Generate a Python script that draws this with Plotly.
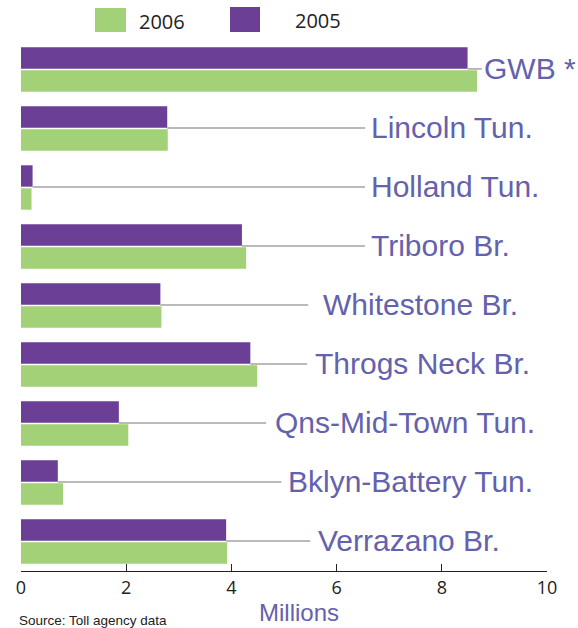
import plotly.graph_objects as go

crossings = ["GWB *", "Lincoln Tun.", "Holland Tun.", "Triboro Br.", "Whitestone Br.",
             "Throgs Neck Br.", "Qns-Mid-Town Tun.", "Bklyn-Battery Tun.", "Verrazano Br."]
vol_2005 = [8.49, 2.78, 0.22, 4.20, 2.65, 4.36, 1.86, 0.70, 3.90]
vol_2006 = [8.67, 2.79, 0.20, 4.28, 2.67, 4.49, 2.04, 0.80, 3.92]
x_ticks = [0, 2, 4, 6, 8, 10]

# label / leader-line placement (data units on x axis)
label_x = [8.78, 6.64, 6.64, 6.64, 5.72, 5.57, 4.81, 5.06, 5.63]
line_end = [8.76, 6.54, 6.54, 6.54, 5.46, 5.44, 4.66, 4.95, 5.50]

PURPLE = "#6b3f96"
GREEN = "#a3d177"
LABEL = "#6461ad"
LINE = "#a3a3a3"

W, H = 578, 628
L, R, T, B = 21, 31, 40, 57
PW, PH = W - L - R, H - T - B

def px(x):
    return (x - L) / PW

def py(y):
    return (H - B - y) / PH

fig = go.Figure()
fig.add_trace(go.Bar(y=list(range(len(crossings))), x=vol_2005, orientation="h",
                     marker=dict(color=PURPLE, line=dict(width=0)), name="2005",
                     showlegend=False))
fig.add_trace(go.Bar(y=list(range(len(crossings))), x=vol_2006, orientation="h",
                     marker=dict(color=GREEN, line=dict(width=0)), name="2006",
                     showlegend=False))

shapes = []
annotations = []
for i, name in enumerate(crossings):
    shapes.append(dict(type="line", xref="x", yref="y", x0=vol_2005[i], x1=line_end[i],
                       y0=i - 0.01, y1=i - 0.01, line=dict(color=LINE, width=1.5)))
    annotations.append(dict(x=label_x[i], y=i, xref="x", yref="y", text=name,
                            showarrow=False, xanchor="left", yanchor="middle",
                            font=dict(family="Liberation Sans", size=30, color=LABEL),
                            borderpad=0, yshift=1))

# legend
shapes.append(dict(type="rect", xref="paper", yref="paper", x0=px(95), x1=px(126),
                   y0=py(32), y1=py(8), fillcolor=GREEN, line=dict(width=0)))
shapes.append(dict(type="rect", xref="paper", yref="paper", x0=px(230), x1=px(260),
                   y0=py(32), y1=py(7), fillcolor=PURPLE, line=dict(width=0)))
annotations.append(dict(x=px(137), y=py(21), xref="paper", yref="paper", text="2006",
                        showarrow=False, xanchor="left", yanchor="middle",
                        font=dict(family="Open Sans", size=20, color="#222")))
annotations.append(dict(x=px(293), y=py(20), xref="paper", yref="paper", text="2005",
                        showarrow=False, xanchor="left", yanchor="middle",
                        font=dict(family="Open Sans", size=20, color="#222")))
annotations.append(dict(x=px(299), y=py(612), xref="paper", yref="paper", text="Millions",
                        showarrow=False, xanchor="center", yanchor="middle", borderpad=0,
                        font=dict(family="Liberation Sans", size=24, color=LABEL)))
annotations.append(dict(x=px(17), y=py(611), xref="paper", yref="paper",
                        text="Source: Toll agency data",
                        showarrow=False, xanchor="left", yanchor="top",
                        font=dict(family="Liberation Sans", size=13.5, color="#222")))

fig.update_layout(
    width=W, height=H,
    margin=dict(l=L, r=R, t=T, b=B, pad=0),
    paper_bgcolor="white", plot_bgcolor="white",
    barmode="group", bargap=0.22, bargroupgap=0.07,
    shapes=shapes, annotations=annotations,
    showlegend=False,
    xaxis=dict(range=[0, 10], tickvals=x_ticks, ticktext=[str(t) for t in x_ticks],
               ticks="inside", ticklen=7, tickcolor="#222", tickwidth=1.3,
               showline=True, linecolor="#222", linewidth=1.3, showgrid=False,
               zeroline=False, fixedrange=True,
               tickfont=dict(family="Open Sans", size=18, color="#222")),
    yaxis=dict(range=[len(crossings) - 0.5, -0.5], showticklabels=False, showgrid=False,
               zeroline=False, showline=False, ticks="", fixedrange=True),
)

fig.write_html("out.html", config={"displayModeBar": False, "staticPlot": True},
               post_script="document.body.style.margin='0';document.body.style.overflow='hidden';")
